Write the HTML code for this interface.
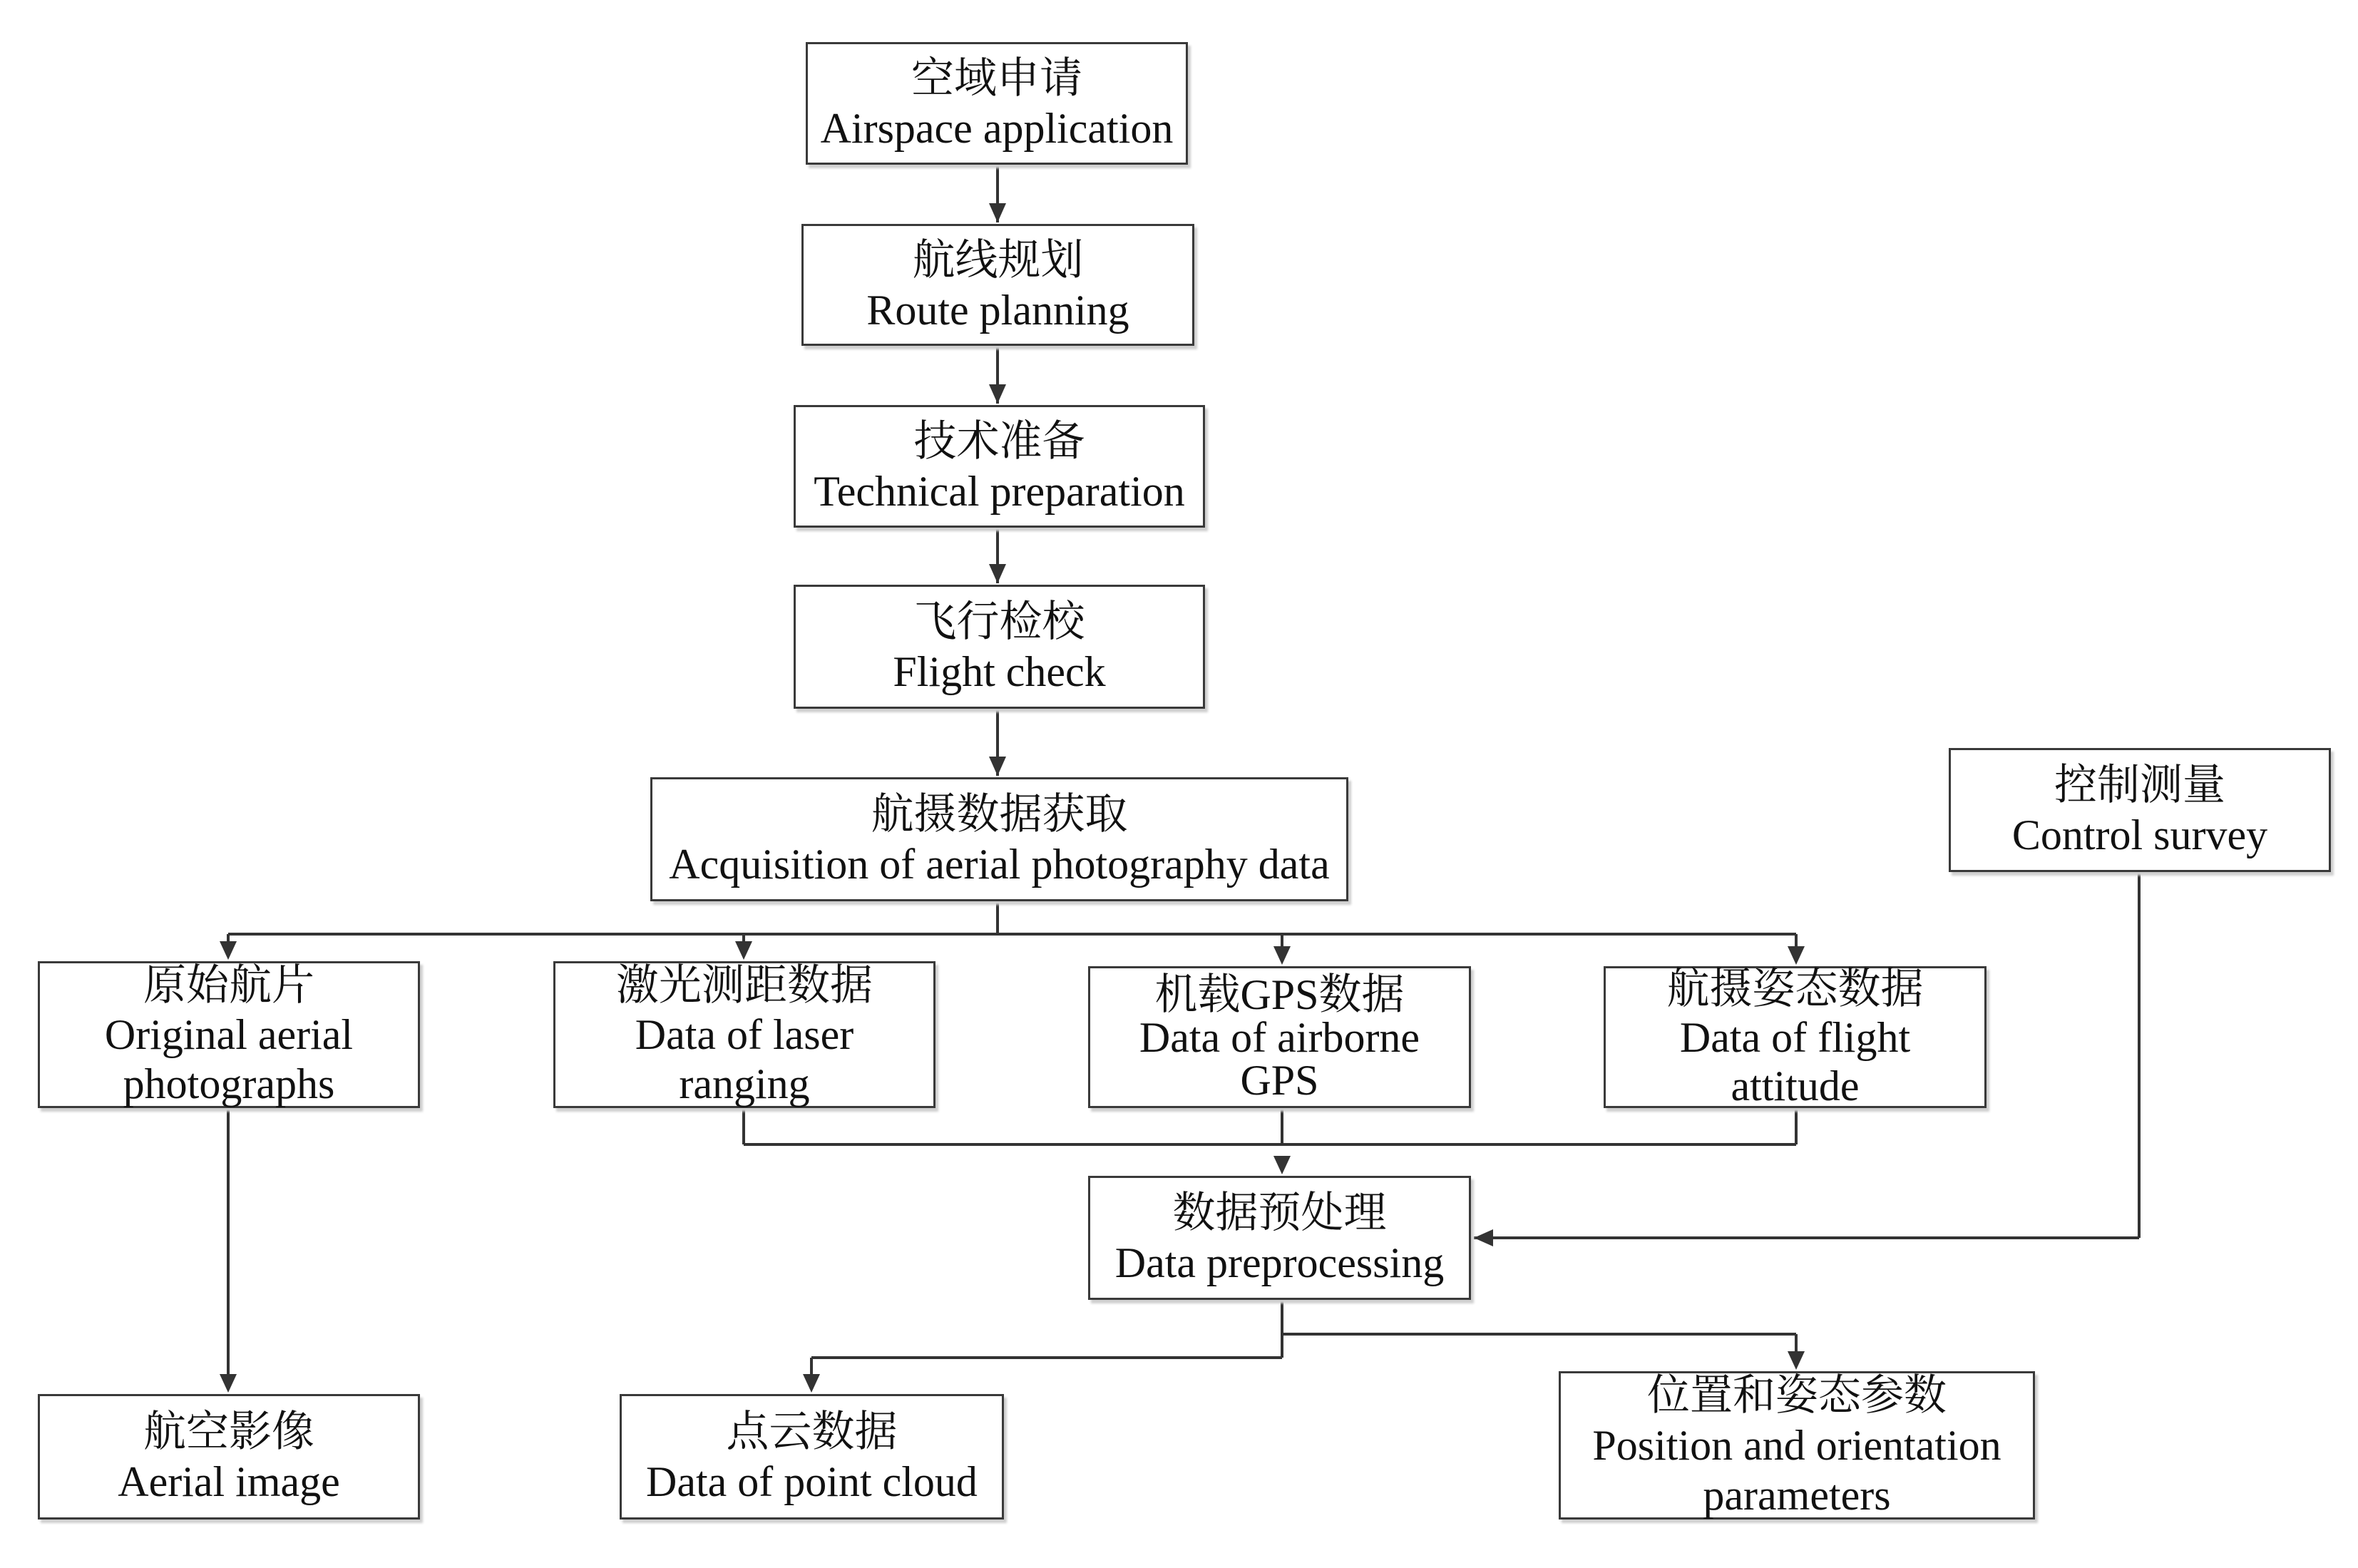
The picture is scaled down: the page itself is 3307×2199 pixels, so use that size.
<!DOCTYPE html>
<html><head><meta charset="utf-8"><style>
body{margin:0;background:#fff;}
#c{position:relative;width:3307px;height:2199px;overflow:hidden;background:#fff;}
.b{position:absolute;box-sizing:border-box;border:3px solid #3a3a3a;box-shadow:4px 5px 3px #cfcfcf;background:#fff;display:flex;flex-direction:column;justify-content:center;align-items:center;font-family:"Liberation Serif","Noto Serif CJK SC",serif;font-size:60px;color:#111;line-height:70px;white-space:nowrap;text-align:center;}
.b span{display:block}
svg{position:absolute;left:0;top:0}
</style></head><body><div id="c">
<svg width="3307" height="2199">
<g stroke="#333" stroke-width="4" fill="none">
<line x1="1399" y1="231" x2="1399" y2="312"/>
<line x1="1399" y1="485" x2="1399" y2="566"/>
<line x1="1399" y1="740" x2="1399" y2="818"/>
<line x1="1399" y1="994" x2="1399" y2="1088"/>
<line x1="1399" y1="1264" x2="1399" y2="1310"/>
<line x1="320" y1="1310" x2="2519" y2="1310"/>
<line x1="1043" y1="1554" x2="1043" y2="1605"/>
<line x1="1798" y1="1554" x2="1798" y2="1605"/>
<line x1="2519" y1="1554" x2="2519" y2="1605"/>
<line x1="1043" y1="1605" x2="2519" y2="1605"/>
<line x1="1798" y1="1823" x2="1798" y2="1904"/>
<line x1="1798" y1="1871" x2="2519" y2="1871"/>
<line x1="1798" y1="1904" x2="1138" y2="1904"/>
<line x1="3000" y1="1223" x2="3000" y2="1736"/>
<line x1="3000" y1="1736" x2="2067" y2="1736"/>
</g>
<g fill="#333">
<path d="M1387,285 L1411,285 L1399,312 Z"/>
<path d="M1387,539 L1411,539 L1399,566 Z"/>
<path d="M1387,791 L1411,791 L1399,818 Z"/>
<path d="M1387,1061 L1411,1061 L1399,1088 Z"/>
<path d="M308,1320 L332,1320 L320,1346 Z"/>
<path d="M1031,1320 L1055,1320 L1043,1346 Z"/>
<path d="M1786,1327 L1810,1327 L1798,1353 Z"/>
<path d="M2507,1327 L2531,1327 L2519,1353 Z"/>
<path d="M1786,1621 L1810,1621 L1798,1647 Z"/>
<path d="M2507,1895 L2531,1895 L2519,1921 Z"/>
<path d="M1126,1927 L1150,1927 L1138,1953 Z"/>
<path d="M308,1927 L332,1927 L320,1953 Z"/>
<path d="M2067,1736 L2094,1724 L2094,1748 Z"/>
</g>
<g stroke="#333" stroke-width="4"><line x1="1138" y1="1904" x2="1138" y2="1930"/><line x1="2519" y1="1871" x2="2519" y2="1898"/><line x1="320" y1="1554" x2="320" y2="1930"/><line x1="320" y1="1310" x2="320" y2="1322"/><line x1="1043" y1="1310" x2="1043" y2="1322"/><line x1="1798" y1="1310" x2="1798" y2="1330"/><line x1="2519" y1="1310" x2="2519" y2="1330"/></g>
</svg>
<div class="b" style="left:1130px;top:59px;width:536px;height:172px"><span>空域申请</span><span>Airspace application</span></div>
<div class="b" style="left:1124px;top:314px;width:551px;height:171px"><span>航线规划</span><span>Route planning</span></div>
<div class="b" style="left:1113px;top:568px;width:577px;height:172px"><span>技术准备</span><span>Technical preparation</span></div>
<div class="b" style="left:1113px;top:820px;width:577px;height:174px"><span>飞行检校</span><span>Flight check</span></div>
<div class="b" style="left:912px;top:1090px;width:979px;height:174px"><span>航摄数据获取</span><span>Acquisition of aerial photography data</span></div>
<div class="b" style="left:2733px;top:1049px;width:536px;height:174px"><span>控制测量</span><span>Control survey</span></div>
<div class="b" style="left:53px;top:1348px;width:536px;height:206px;line-height:69px"><span>原始航片</span><span>Original aerial</span><span>photographs</span></div>
<div class="b" style="left:776px;top:1348px;width:536px;height:206px;line-height:69px"><span>激光测距数据</span><span>Data of laser</span><span>ranging</span></div>
<div class="b" style="left:1526px;top:1355px;width:537px;height:199px;line-height:60px"><span>机载GPS数据</span><span>Data of airborne</span><span>GPS</span></div>
<div class="b" style="left:2249px;top:1355px;width:537px;height:199px;line-height:68px"><span>航摄姿态数据</span><span>Data of flight</span><span>attitude</span></div>
<div class="b" style="left:1526px;top:1649px;width:537px;height:174px"><span>数据预处理</span><span>Data preprocessing</span></div>
<div class="b" style="left:53px;top:1955px;width:536px;height:176px"><span>航空影像</span><span>Aerial image</span></div>
<div class="b" style="left:869px;top:1955px;width:539px;height:176px"><span>点云数据</span><span>Data of point cloud</span></div>
<div class="b" style="left:2186px;top:1923px;width:668px;height:208px;line-height:70px"><span>位置和姿态参数</span><span>Position and orientation</span><span>parameters</span></div>
</div></body></html>
